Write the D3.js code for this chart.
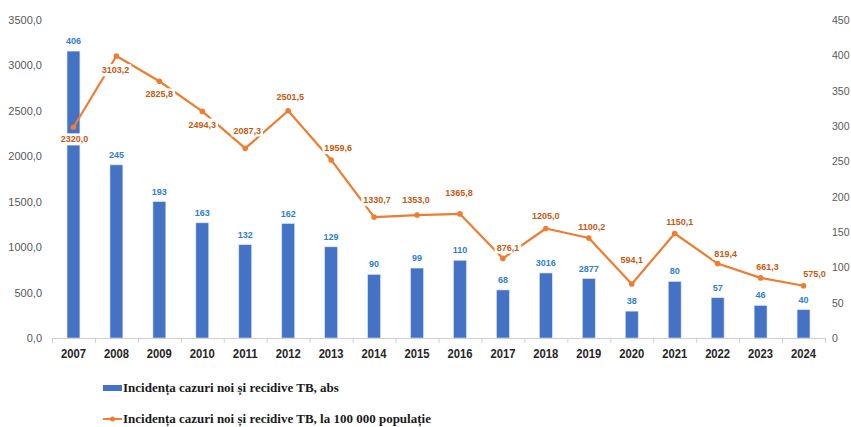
<!DOCTYPE html>
<html>
<head>
<meta charset="utf-8">
<script src="https://cdn.jsdelivr.net/npm/d3@7"></script>
<style>
    body { margin: 0; background: #fff; }
    svg { display: block; }
</style>
</head>
<body>
<div id="chart"></div>
<script>
// categories and values
var years = ["2007", "2008", "2009", "2010", "2011", "2012", "2013", "2014", "2015",
             "2016", "2017", "2018", "2019", "2020", "2021", "2022", "2023", "2024"];
// bar heights as drawn (right axis)
var absValues = [406, 245, 193, 163, 132, 162, 129, 90, 99, 110, 68, 92, 84, 38, 80, 57, 46, 40];
// bar labels as printed on the chart
var absLabels = ["406", "245", "193", "163", "132", "162", "129", "90", "99", "110", "68",
                 "3016", "2877", "38", "80", "57", "46", "40"];
// line values (left axis)
var rateValues = [2320.0, 3103.2, 2825.8, 2494.3, 2087.3, 2501.5, 1959.6, 1330.7, 1353.0,
                  1365.8, 876.1, 1205.0, 1100.2, 594.1, 1150.1, 819.4, 661.3, 575.0];
var leftTicks = [0, 500, 1000, 1500, 2000, 2500, 3000, 3500];
var rightTicks = [0, 50, 100, 150, 200, 250, 300, 350, 400, 450];
var legendNames = ["Incidența cazuri noi și recidive TB, abs",
                   "Incidența cazuri noi și recidive TB, la 100 000 populație"];

// where each line label sits relative to its point (layout only)
var rateLabelOffsets = [[1, 12], [-1, 14], [0, 13], [0, 13], [2, -18], [2, -14], [7, -12],
                        [3, -17], [-1, -15], [-1, -21], [5, -11], [0, -13], [3, -11],
                        [0, -24], [5, -12], [8, -10], [7, -11], [11, -12]];

function init() {
    var w = 851;
    var h = 427;
    var left = 52, right = 825, top = 20, bottom = 338;

    var barColor = "#4472C4";
    var lineColor = "#ED7D31";

    var svg = d3.select("#chart")
        .append("svg")
        .attr("width", w)
        .attr("height", h);

    var xScale = d3.scaleBand()
        .domain(years)
        .range([left, right])
        .paddingInner(0.7)
        .paddingOuter(0.35);

    var xPoint = function (d) { return xScale(d) + xScale.bandwidth() / 2; };

    var yLeft = d3.scaleLinear().domain([0, 3500]).range([bottom, top]);
    var yRight = d3.scaleLinear().domain([0, 450]).range([bottom, top]);

    // left axis labels (no line)
    var yAxisL = d3.axisLeft(yLeft)
        .tickValues(leftTicks)
        .tickSize(0)
        .tickPadding(0)
        .tickFormat(function (d) { return d3.format(".1f")(d).replace(".", ","); });
    var gL = svg.append("g")
        .attr("transform", "translate(42,0)")
        .call(yAxisL);
    gL.select(".domain").remove();
    gL.selectAll("text")
        .attr("fill", "#595959")
        .style("font-family", "'Liberation Sans', Arial, sans-serif")
        .style("font-size", "11px");

    // right axis labels
    var yAxisR = d3.axisRight(yRight)
        .tickValues(rightTicks)
        .tickSize(0)
        .tickPadding(0);
    var gR = svg.append("g")
        .attr("transform", "translate(832,0)")
        .call(yAxisR);
    gR.select(".domain").remove();
    gR.selectAll("text")
        .attr("fill", "#595959")
        .style("font-family", "'Liberation Sans', Arial, sans-serif")
        .style("font-size", "10.5px");

    // bars
    svg.selectAll("rect.bar")
        .data(absValues)
        .enter()
        .append("rect")
        .attr("class", "bar")
        .attr("x", function (d, i) { return xScale(years[i]); })
        .attr("y", function (d) { return yRight(d); })
        .attr("width", xScale.bandwidth())
        .attr("height", function (d) { return bottom - yRight(d); })
        .attr("fill", barColor)
        .attr("stroke", "#dbe3f3")
        .attr("stroke-width", 0.6);

    // x axis
    var xAxis = d3.axisBottom(d3.scaleLinear().domain([0, years.length]).range([left, right]))
        .ticks(years.length)
        .tickSize(5)
        .tickFormat("");
    var gX = svg.append("g")
        .attr("transform", "translate(0," + bottom + ")")
        .call(xAxis);
    gX.select(".domain").attr("stroke", "#d0d0d0").attr("d", "M" + left + ",0.5H" + right);
    gX.selectAll(".tick line").attr("stroke", "#d0d0d0");

    svg.selectAll("text.year")
        .data(years)
        .enter()
        .append("text")
        .attr("class", "year")
        .attr("x", function (d) { return xPoint(d); })
        .attr("y", 358)
        .attr("text-anchor", "middle")
        .attr("fill", "#262626")
        .attr("textLength", 25)
        .attr("lengthAdjust", "spacingAndGlyphs")
        .style("font-family", "'Liberation Sans Narrow', 'Liberation Sans', sans-serif")
        .style("font-weight", "bold")
        .style("font-size", "12px")
        .text(function (d) { return d; });

    // bar labels
    svg.selectAll("text.absLabel")
        .data(absValues)
        .enter()
        .append("text")
        .attr("class", "absLabel")
        .attr("x", function (d, i) { return xPoint(years[i]); })
        .attr("y", function (d) { return yRight(d) - 7; })
        .attr("text-anchor", "middle")
        .attr("fill", "#2F80D0")
        .style("font-family", "'Liberation Sans', Arial, sans-serif")
        .style("font-weight", "bold")
        .style("font-size", "9px")
        .text(function (d, i) { return absLabels[i]; });

    // line
    var line = d3.line()
        .x(function (d, i) { return xPoint(years[i]); })
        .y(function (d) { return yLeft(d); });

    svg.append("path")
        .datum(rateValues)
        .attr("fill", "none")
        .attr("stroke", lineColor)
        .attr("stroke-width", 2.2)
        .attr("stroke-linejoin", "round")
        .attr("d", line);

    svg.selectAll("circle.pt")
        .data(rateValues)
        .enter()
        .append("circle")
        .attr("class", "pt")
        .attr("cx", function (d, i) { return xPoint(years[i]); })
        .attr("cy", function (d) { return yLeft(d); })
        .attr("r", 2.8)
        .attr("fill", lineColor);

    // line labels with white boxes
    var fmtRate = function (d) { return d3.format(".1f")(d).replace(".", ","); };
    var lbl = svg.selectAll("g.rateLabel")
        .data(rateValues)
        .enter()
        .append("g")
        .attr("class", "rateLabel")
        .attr("transform", function (d, i) {
            var o = rateLabelOffsets[i];
            return "translate(" + (xPoint(years[i]) + o[0]) + "," + (yLeft(d) + o[1]) + ")";
        });
    lbl.append("text")
        .attr("text-anchor", "middle")
        .attr("dy", "0.35em")
        .attr("fill", "#C55A11")
        .style("font-family", "'Liberation Sans', Arial, sans-serif")
        .style("font-weight", "bold")
        .style("font-size", "9px")
        .text(fmtRate);
    lbl.each(function () {
        var g = d3.select(this);
        var b = g.select("text").node().getBBox();
        g.insert("rect", "text")
            .attr("x", b.x - 2)
            .attr("y", b.y - 1)
            .attr("width", b.width + 4)
            .attr("height", b.height + 2)
            .attr("fill", "#fff");
    });

    // legend
    var legend = svg.append("g");
    legend.append("rect")
        .attr("x", 103).attr("y", 385)
        .attr("width", 19).attr("height", 6)
        .attr("fill", barColor);
    legend.append("line")
        .attr("x1", 103).attr("x2", 122)
        .attr("y1", 419).attr("y2", 419)
        .attr("stroke", lineColor).attr("stroke-width", 2);
    legend.append("circle")
        .attr("cx", 112.5).attr("cy", 419).attr("r", 2.5)
        .attr("fill", lineColor);
    legend.selectAll("text.leg")
        .data(legendNames)
        .enter()
        .append("text")
        .attr("class", "leg")
        .attr("x", 123)
        .attr("y", function (d, i) { return 392 + i * 31; })
        .attr("fill", "#1a1a1a")
        .style("font-family", "'Liberation Serif', 'Times New Roman', serif")
        .style("font-weight", "bold")
        .style("font-size", "13px")
        .text(function (d) { return d; });
}

window.onload = init;
</script>
</body>
</html>
